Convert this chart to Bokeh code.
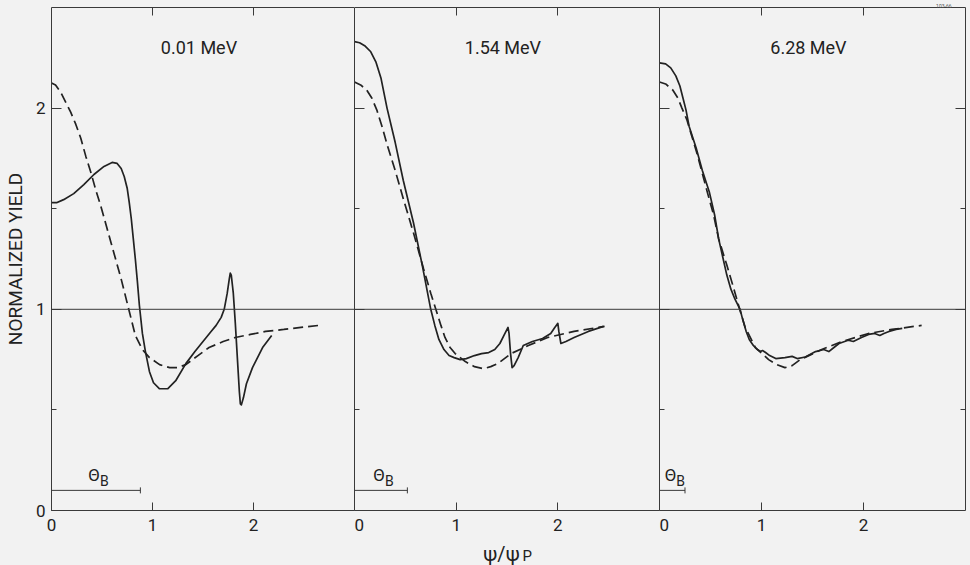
from bokeh.plotting import figure
from bokeh.layouts import row, column
from bokeh.models import LinearAxis, FixedTicker, Span, Range1d
from bokeh.core.properties import value
from bokeh.embed import file_html
from bokeh.resources import INLINE

# ---- data -------------------------------------------------------------
energies = ["0.01 MeV", "1.54 MeV", "6.28 MeV"]
theta_b = [0.88, 0.52, 0.25]          # width of the Bragg-angle marker bar
theta_b_level = 0.1
figure_code = "103-66"

# 0.01 MeV
solid1_x = [0, 0.05, 0.12, 0.22, 0.32, 0.42, 0.52, 0.60, 0.65, 0.69, 0.72, 0.75, 0.77, 0.79,
            0.81, 0.83, 0.85, 0.87, 0.90, 0.93, 0.97, 1.01, 1.07, 1.15, 1.23, 1.33, 1.42, 1.50,
            1.58, 1.63, 1.68, 1.71, 1.74, 1.76, 1.77, 1.78, 1.80, 1.82, 1.84, 1.86, 1.87, 1.88,
            1.90, 1.93, 1.99, 2.09, 2.18]
solid1_y = [1.53, 1.53, 1.545, 1.575, 1.62, 1.67, 1.71, 1.73, 1.725, 1.70, 1.66, 1.60, 1.53, 1.45,
            1.35, 1.25, 1.14, 1.02, 0.88, 0.79, 0.69, 0.635, 0.605, 0.605, 0.645, 0.73, 0.79, 0.84,
            0.89, 0.92, 0.96, 1.00, 1.08, 1.15, 1.18, 1.17, 1.08, 0.93, 0.76, 0.59, 0.53, 0.525,
            0.56, 0.63, 0.71, 0.81, 0.87]
dash1_x = [0, 0.04, 0.09, 0.14, 0.19, 0.24, 0.29, 0.34, 0.39, 0.44, 0.49, 0.59, 0.69, 0.76, 0.83,
           0.90, 0.97, 1.07, 1.17, 1.25, 1.33, 1.45, 1.56, 1.70, 1.82, 1.97, 2.12, 2.30, 2.47, 2.65]
dash1_y = [2.125, 2.115, 2.08, 2.03, 1.98, 1.92, 1.85, 1.76, 1.68, 1.59, 1.51, 1.33, 1.15, 1.01,
           0.87, 0.80, 0.76, 0.725, 0.71, 0.71, 0.725, 0.77, 0.81, 0.84, 0.86, 0.875, 0.89, 0.90,
           0.91, 0.92]

# 1.54 MeV
solid2_x = [0, 0.05, 0.10, 0.16, 0.21, 0.26, 0.32, 0.40, 0.48, 0.58, 0.67, 0.75, 0.79, 0.83, 0.88,
            0.93, 0.98, 1.04, 1.10, 1.18, 1.25, 1.32, 1.38, 1.43, 1.47, 1.50, 1.51, 1.52, 1.535,
            1.55, 1.57, 1.61, 1.66, 1.75, 1.85, 1.93, 1.97, 2.0, 2.01, 2.03, 2.08, 2.16, 2.30, 2.45]
solid2_y = [2.33, 2.325, 2.31, 2.28, 2.23, 2.15, 2.0, 1.83, 1.64, 1.43, 1.21, 1.0, 0.92, 0.85, 0.80,
            0.77, 0.76, 0.75, 0.755, 0.77, 0.78, 0.785, 0.80, 0.83, 0.87, 0.90, 0.91, 0.88, 0.78,
            0.71, 0.72, 0.76, 0.82, 0.84, 0.855, 0.88, 0.91, 0.93, 0.89, 0.83, 0.84, 0.86, 0.89, 0.915]
dash2_x = [0, 0.06, 0.12, 0.17, 0.22, 0.27, 0.32, 0.40, 0.48, 0.58, 0.68, 0.75, 0.80, 0.85, 0.89,
           0.94, 0.99, 1.09, 1.18, 1.27, 1.34, 1.41, 1.54, 1.71, 1.90, 2.16, 2.46]
dash2_y = [2.13, 2.115, 2.09, 2.05, 1.99, 1.91, 1.82, 1.69, 1.55, 1.38, 1.20, 1.08, 1.0, 0.92, 0.86,
           0.81, 0.78, 0.74, 0.715, 0.705, 0.715, 0.73, 0.78, 0.82, 0.86, 0.89, 0.915]

# 6.28 MeV
solid3_x = [0, 0.06, 0.11, 0.16, 0.20, 0.23, 0.26, 0.29, 0.36, 0.42, 0.49, 0.54, 0.58, 0.62, 0.66,
            0.70, 0.74, 0.79, 0.81, 0.85, 0.88, 0.92, 0.96, 0.99, 1.01, 1.04, 1.08, 1.14, 1.23, 1.30,
            1.35, 1.43, 1.53, 1.61, 1.66, 1.71, 1.76, 1.85, 1.90, 1.98, 2.05, 2.11, 2.16, 2.20, 2.25,
            2.32, 2.38]
solid3_y = [2.225, 2.22, 2.20, 2.16, 2.11, 2.05, 1.99, 1.91, 1.80, 1.69, 1.58, 1.47, 1.35, 1.26, 1.17,
            1.10, 1.05, 1.0, 0.96, 0.89, 0.85, 0.82, 0.80, 0.79, 0.795, 0.785, 0.77, 0.755, 0.76, 0.766,
            0.755, 0.763, 0.79, 0.80, 0.79, 0.81, 0.83, 0.846, 0.84, 0.86, 0.875, 0.88, 0.87, 0.88, 0.89,
            0.90, 0.905]
dash3_x = [0, 0.06, 0.13, 0.18, 0.22, 0.27, 0.37, 0.47, 0.53, 0.58, 0.66, 0.73, 0.78, 0.84, 0.94,
           1.07, 1.15, 1.23, 1.30, 1.38, 1.59, 1.79, 2.05, 2.28, 2.57]
dash3_y = [2.13, 2.12, 2.09, 2.05, 2.0, 1.94, 1.77, 1.58, 1.47, 1.35, 1.22, 1.10, 1.01, 0.91, 0.81,
           0.75, 0.725, 0.71, 0.72, 0.75, 0.80, 0.84, 0.88, 0.90, 0.92]

panels = [
    (solid1_x, solid1_y, dash1_x, dash1_y),
    (solid2_x, solid2_y, dash2_x, dash2_y),
    (solid3_x, solid3_y, dash3_x, dash3_y),
]

# ---- styling ----------------------------------------------------------
BG = "#f2f2f2"
INK = "#222222"
FRAME = "#3a3a3a"
FONT = "Roboto"
frame_widths = [303, 305, 306]
TOP_B = 7
CAPTION_H = 23


def style_axis(ax, ticks, minor, show_labels, tick_len, minor_len):
    ax.ticker = FixedTicker(ticks=ticks, minor_ticks=minor)
    ax.axis_line_color = FRAME
    ax.axis_line_width = 1
    ax.major_tick_line_color = FRAME
    ax.minor_tick_line_color = FRAME
    ax.major_tick_in = tick_len
    ax.major_tick_out = 0
    ax.minor_tick_in = minor_len
    ax.minor_tick_out = 0
    ax.major_label_text_font = FONT
    ax.major_label_text_color = INK
    ax.major_label_text_font_size = "17px"
    if not show_labels:
        ax.major_label_overrides = {t: "" for t in ticks}
        ax.major_label_standoff = 0


figs = []
for i, (sx, sy, dx, dy) in enumerate(panels):
    p = figure(
        frame_width=frame_widths[i], frame_height=503,
        x_range=Range1d(0, 3), y_range=Range1d(0, 2.5),
        x_axis_location=None, y_axis_location=None,
        output_backend="svg", toolbar_location=None,
        min_border_top=TOP_B, min_border_bottom=565 - TOP_B - 503 - CAPTION_H,
        min_border_left=49 if i == 0 else 0,
        min_border_right=7 if i == 2 else 0,
        background_fill_color=BG, border_fill_color=BG,
        outline_line_color=None,
    )
    p.xgrid.visible = False
    p.ygrid.visible = False

    if i == 2:
        # drawing number in the top-right corner
        p.title.text = figure_code
        p.title.align = "right"
        p.title.text_font = FONT
        p.title.text_font_size = "5px"
        p.title.text_font_style = "normal"
        p.title.text_color = "#555555"
        p.title.standoff = 0
        p.title.offset = 14

    bottom = LinearAxis()
    style_axis(bottom, [0, 1, 2], [], True, 8, 0)
    bottom.major_label_standoff = 8
    p.add_layout(bottom, "below")

    top = LinearAxis()
    style_axis(top, [1, 2], [], False, 8, 0)
    p.add_layout(top, "above")

    left = LinearAxis()
    style_axis(left, [0, 1, 2], [0.5, 1.5], i == 0, 10, 5)
    if i == 0:
        left.major_label_standoff = 6
        left.axis_label = "NORMALIZED YIELD"
        left.axis_label_text_font = FONT
        left.axis_label_text_font_size = "19px"
        left.axis_label_text_font_style = "normal"
        left.axis_label_text_color = INK
        left.axis_label_standoff = 6
    p.add_layout(left, "left")

    if i == 2:
        right = LinearAxis()
        style_axis(right, [1, 2], [0.5, 1.5], False, 10, 5)
        p.add_layout(right, "right")

    # unit-yield reference line
    p.add_layout(Span(location=1, dimension="width", line_color=FRAME, line_width=1))

    # curves
    p.line(dx, dy, line_color=INK, line_width=1.7, line_dash="10 5")
    p.line(sx, sy, line_color=INK, line_width=1.7, line_join="round")

    # energy caption
    p.text(x=[1.46], y=[2.30], text=[energies[i]], text_font=value(FONT),
           text_font_size="18px", text_color=INK, text_align="center",
           text_baseline="middle")

    # Bragg-angle marker bar with end tick and label
    tb = theta_b[i]
    p.segment(x0=[0], y0=[theta_b_level], x1=[tb], y1=[theta_b_level],
              line_color=FRAME, line_width=1)
    p.scatter(x=[tb], y=[theta_b_level], marker="dash", angle=1.5708, size=6,
              line_color=FRAME, line_width=1)
    mid = tb / 2
    p.text(x=[mid], y=[theta_b_level], text=["Θ"], text_font=value(FONT),
           text_font_size="17px", text_color=INK, text_align="right",
           text_baseline="bottom", x_offset=4, y_offset=-5)
    p.text(x=[mid], y=[theta_b_level], text=["B"], text_font=value(FONT),
           text_font_size="14px", text_color=INK, text_align="left",
           text_baseline="bottom", x_offset=4, y_offset=-1)

    figs.append(p)

# strip underneath the panels carrying the x-axis caption psi/psi_P
cap = figure(width=970, height=CAPTION_H, x_range=Range1d(0, 970),
             y_range=Range1d(0, CAPTION_H), x_axis_location=None,
             y_axis_location=None, output_backend="svg", toolbar_location=None,
             min_border=0, background_fill_color=BG, border_fill_color=BG,
             outline_line_color=None)
cap.xgrid.visible = False
cap.ygrid.visible = False
cap.text(x=[501], y=[12], text=["ψ/ψ"], text_font=value(FONT), text_font_size="20px",
         text_color=INK, text_align="center", text_baseline="middle")
cap.text(x=[522], y=[1], text=["P"], text_font=value(FONT), text_font_size="15px",
         text_color=INK, text_align="left", text_baseline="bottom")

layout = column(row(*figs, spacing=0), cap, spacing=0)
layout.styles = {"background-color": BG}

open("out.html", "w").write(file_html(layout, INLINE))
